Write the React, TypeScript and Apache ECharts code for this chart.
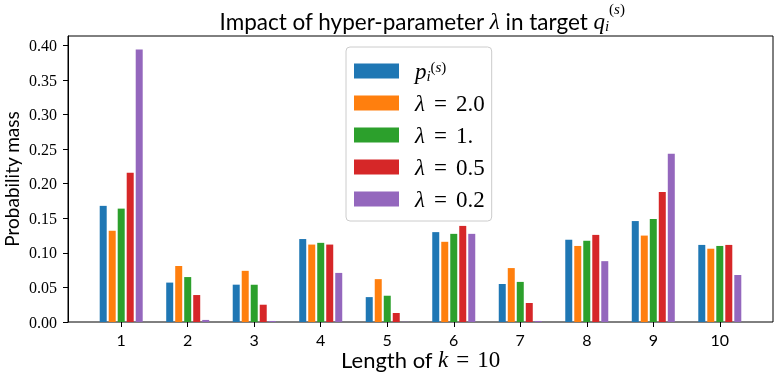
import React, { useEffect, useRef } from "react";
import * as echarts from "echarts";

const categories = [1, 2, 3, 4, 5, 6, 7, 8, 9, 10];
const yTicks = [0, 0.05, 0.1, 0.15, 0.2, 0.25, 0.3, 0.35, 0.4];
const seriesNames = ["p_i^(s)", "λ = 2.0", "λ = 1.", "λ = 0.5", "λ = 0.2"];
const pS = [0.168, 0.057, 0.054, 0.12, 0.036, 0.13, 0.055, 0.119, 0.146, 0.1115];
const lam20 = [0.132, 0.081, 0.074, 0.112, 0.062, 0.116, 0.078, 0.11, 0.125, 0.106];
const lam10 = [0.164, 0.065, 0.054, 0.1145, 0.038, 0.1275, 0.058, 0.1175, 0.149, 0.11];
const lam05 = [0.216, 0.039, 0.025, 0.112, 0.013, 0.139, 0.0275, 0.126, 0.188, 0.1115];
const lam02 = [0.394, 0.003, 0.0015, 0.071, 0.0003, 0.1275, 0.0015, 0.088, 0.2435, 0.068];
const colors = ["#1f77b4", "#ff7f0e", "#2ca02c", "#d62728", "#9467bd"];

const SANS = "Lato";
const SERIF = "Liberation Serif";

const X_MIN = 0.2;
const X_MAX = 10.8;
const Y_MAX = 0.4137;

export default function App() {
  const ref = useRef<HTMLDivElement>(null);
  useEffect(() => {
    const chart = echarts.init(ref.current!, null, { renderer: "svg" });
    const W = 778;
    const gLeft = 68;
    const gRight = 5;
    const plotW = W - gLeft - gRight;
    const unit = plotW / (X_MAX - X_MIN);
    const barLeft = gLeft + (categories[0] - 0.5 - X_MIN) * unit;
    const barRight = W - (gLeft + (categories[categories.length - 1] + 0.5 - X_MIN) * unit);

    const allData = [pS, lam20, lam10, lam05, lam02];
    const series = allData.map((arr, si) => ({
      name: seriesNames[si],
      type: "bar",
      xAxisIndex: 1,
      yAxisIndex: 1,
      barWidth: 7,
      barGap: "28.6%",
      itemStyle: { color: colors[si] },
      data: arr,
    }));
    const option: any = {
      animation: false,
      grid: [
        {
          left: gLeft,
          right: gRight,
          top: 36,
          bottom: 52,
          show: true,
          borderColor: "#000",
          borderWidth: 1,
          containLabel: false,
          outerBoundsMode: "none",
        },
        {
          left: barLeft,
          right: barRight,
          top: 36,
          bottom: 52,
          containLabel: false,
          outerBoundsMode: "none",
        },
      ],
      graphic: [
        {
          type: "text",
          x: 422,
          y: 1,
          style: {
            align: "center",
            text: "{t|Impact of hyper-parameter }{m|λ}{t| in target }{m|q}{sub|i}{sup|(}{supi|s}{sup|)}",
            rich: {
              t: { fontFamily: SANS, fontSize: 22.5, lineHeight: 32, verticalAlign: "bottom", fill: "#000" },
              m: { fontFamily: SERIF, fontStyle: "italic", fontSize: 23, lineHeight: 32, verticalAlign: "bottom", fill: "#000" },
              sub: { fontFamily: SERIF, fontStyle: "italic", fontSize: 15, lineHeight: 15, width: 4, verticalAlign: "bottom", fill: "#000" },
              sup: { fontFamily: SERIF, fontSize: 15, lineHeight: 17, verticalAlign: "top", fill: "#000" },
              supi: { fontFamily: SERIF, fontStyle: "italic", fontSize: 15, lineHeight: 17, verticalAlign: "top", fill: "#000" },
            },
          },
        },
      ],
      legend: {
        orient: "vertical",
        left: 346,
        top: 47,
        itemWidth: 45,
        itemHeight: 15,
        itemGap: 8,
        padding: [12, 7, 10, 8],
        backgroundColor: "rgba(255,255,255,0.8)",
        borderColor: "#cccccc",
        borderWidth: 1,
        borderRadius: 4,
        icon: "rect",
        data: seriesNames,
        formatter: (name: string) => {
          if (name === "p_i^(s)") return "{m|p}{sub|i}{sup|(}{supi|s}{sup|)}";
          const rest = name.replace("λ = ", "");
          return "{m|λ}{eq|=}{n|" + rest + "}";
        },
        textStyle: {
          padding: [0, 0, 0, 11],
          fontSize: 22,
          lineHeight: 24,
          rich: {
            m: { fontFamily: SERIF, fontStyle: "italic", fontSize: 23, lineHeight: 24, color: "#000" },
            eq: { fontFamily: SERIF, fontSize: 23, lineHeight: 24, padding: [0, 9, 0, 9], color: "#000" },
            n: { fontFamily: SERIF, fontSize: 23, lineHeight: 24, color: "#000" },
            sub: { fontFamily: SERIF, fontStyle: "italic", fontSize: 15, lineHeight: 14, width: 4, verticalAlign: "bottom", color: "#000" },
            sup: { fontFamily: SERIF, fontSize: 15, lineHeight: 16, verticalAlign: "top", color: "#000" },
            supi: { fontFamily: SERIF, fontStyle: "italic", fontSize: 15, lineHeight: 16, verticalAlign: "top", color: "#000" },
          },
        },
      },
      xAxis: [
        {
          type: "value",
          gridIndex: 0,
          min: X_MIN,
          max: X_MAX,
          show: false,
        },
        {
          type: "category",
          gridIndex: 1,
          data: categories,
          axisLine: { show: false },
          axisTick: { show: true, length: 5, alignWithLabel: true, lineStyle: { color: "#000" } },
          axisLabel: {
            margin: 8,
            fontFamily: SANS,
            fontSize: 16,
            lineHeight: 18,
            color: "#000",
          },
          name: "{t|Length of }{m|k}{eq|=}{n|10}",
          nameLocation: "middle",
          nameGap: 27,
          nameMoveOverlap: false,
          nameTextStyle: {
            lineHeight: 20,
            rich: {
              t: { fontFamily: SANS, fontSize: 22, lineHeight: 20, color: "#000" },
              m: { fontFamily: SERIF, fontStyle: "italic", fontSize: 23, lineHeight: 20, color: "#000" },
              eq: { fontFamily: SERIF, fontSize: 23, lineHeight: 20, padding: [0, 8, 0, 8], color: "#000" },
              n: { fontFamily: SERIF, fontSize: 23, lineHeight: 20, color: "#000" },
            },
          },
        },
      ],
      yAxis: [
        {
          type: "value",
          gridIndex: 0,
          min: 0,
          max: Y_MAX,
          splitLine: { show: false },
          axisLine: { show: true, lineStyle: { color: "#000", width: 1 } },
          axisTick: { show: true, length: 5, customValues: yTicks, lineStyle: { color: "#000" } },
          axisLabel: {
            customValues: yTicks,
            margin: 11,
            fontFamily: SERIF,
            fontSize: 16,
            color: "#000",
            formatter: (v: number) => v.toFixed(2),
          },
          name: "Probability mass",
          nameLocation: "middle",
          nameGap: 47,
          nameMoveOverlap: false,
          nameTextStyle: { fontFamily: SANS, fontSize: 19, color: "#000" },
        },
        {
          type: "value",
          gridIndex: 1,
          min: 0,
          max: Y_MAX,
          show: false,
          splitLine: { show: false },
        },
      ],
      series,
    };
    chart.setOption(option);
    return () => chart.dispose();
  }, []);
  return <div ref={ref} style={{ position: "fixed", left: 0, top: 0, width: 778, height: 374 }} />;
}
